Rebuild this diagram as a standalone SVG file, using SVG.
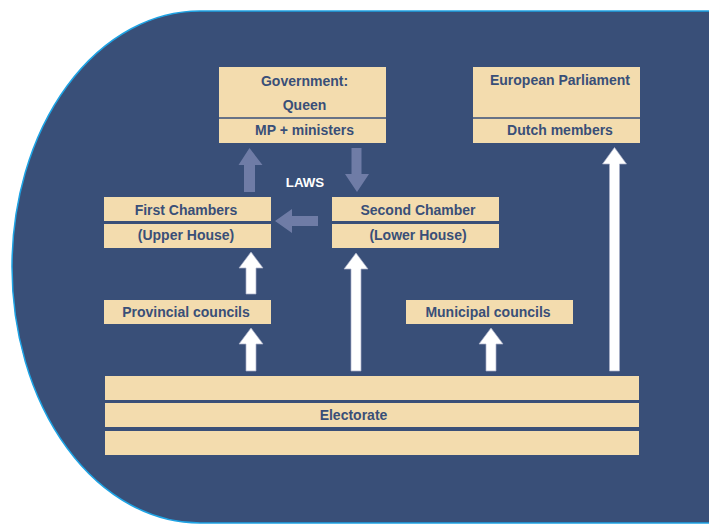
<svg xmlns="http://www.w3.org/2000/svg" width="709" height="524" viewBox="0 0 709 524">
  <style>
    .box { fill: #f3dcae; }
    .div { stroke: #394f78; stroke-width: 1.5; }
    .lbl { font-family: "Liberation Sans", Arial, sans-serif; font-weight: bold; font-size: 14px; fill: #394f78; text-anchor: middle; }
    .laws { font-family: "Liberation Sans", Arial, sans-serif; font-weight: bold; font-size: 13.3px; fill: #ffffff; text-anchor: middle; }
    .wa { fill: #ffffff; stroke: #a9b0c8; stroke-width: 0.7; }
    .ga { fill: #6f7ca6; }
  </style>
  <rect width="709" height="524" fill="#ffffff"/>
  <path d="M 712 11 H 200 A 188 256 0 0 0 200 523 H 712 Z" fill="#394f78" stroke="#1ea3e4" stroke-width="1.5"/>

  <g id="government">
    <rect class="box" x="219" y="67" width="167" height="76"/>
    <line class="div" x1="219" y1="118" x2="386" y2="118"/>
    <text class="lbl" x="304.5" y="86">Government:</text>
    <text class="lbl" x="304.5" y="110">Queen</text>
    <text class="lbl" x="304.5" y="135">MP + ministers</text>
  </g>
  <g id="european-parliament">
    <rect class="box" x="473" y="67" width="167" height="76"/>
    <line class="div" x1="473" y1="118" x2="640" y2="118"/>
    <text class="lbl" x="560" y="85">European Parliament</text>
    <text class="lbl" x="560" y="135">Dutch members</text>
  </g>
  <g id="first-chambers">
    <rect class="box" x="104" y="197" width="167" height="24"/>
    <rect class="box" x="104" y="224" width="167" height="24"/>
    <text class="lbl" x="186" y="215">First Chambers</text>
    <text class="lbl" x="186" y="240">(Upper House)</text>
  </g>
  <g id="second-chamber">
    <rect class="box" x="332" y="197" width="167" height="24"/>
    <rect class="box" x="332" y="224" width="167" height="24"/>
    <text class="lbl" x="418" y="215">Second Chamber</text>
    <text class="lbl" x="418" y="240">(Lower House)</text>
  </g>
  <g id="provincial-councils">
    <rect class="box" x="104" y="300" width="167" height="24"/>
    <text class="lbl" x="186" y="317">Provincial councils</text>
  </g>
  <g id="municipal-councils">
    <rect class="box" x="406" y="300" width="167" height="24"/>
    <text class="lbl" x="488" y="317">Municipal councils</text>
  </g>
  <g id="electorate">
    <rect class="box" x="105" y="376" width="534" height="24"/>
    <rect class="box" x="105" y="403" width="534" height="24"/>
    <rect class="box" x="105" y="431" width="534" height="24"/>
    <text class="lbl" x="353.5" y="420">Electorate</text>
  </g>

  <g id="connectors">
    <path class="ga" d="M244 192 V165 H238.5 L249.5 148 L262.5 165 H255 V192 Z"/>
    <path class="ga" d="M351.5 148 H361.5 V174 H369 L357 192 L345 174 H351.5 Z"/>
    <path class="ga" d="M318 216 H292 V209 L275 221 L292 233 V226 H318 Z"/>
    <text class="laws" x="305" y="187">LAWS</text>
    <path class="wa" d="M246 294 V268 H239 L251 252 L263 268 H256 V294 Z"/>
    <path class="wa" d="M246 371 V344 H239 L251 328 L263 344 H256 V371 Z"/>
    <path class="wa" d="M351 371 V269 H344 L356 253 L368 269 H361 V371 Z"/>
    <path class="wa" d="M486 371 V344 H479 L491 328 L503 344 H496 V371 Z"/>
    <path class="wa" d="M609.5 371 V164 H602.5 L614.5 147.5 L626.5 164 H619.5 V371 Z"/>
  </g>
</svg>
